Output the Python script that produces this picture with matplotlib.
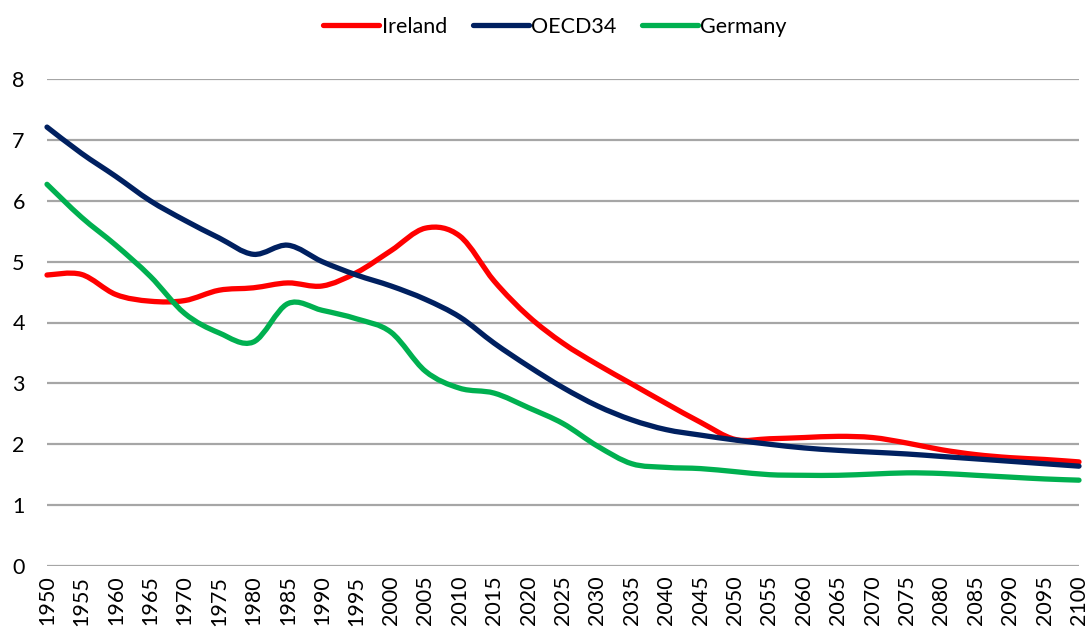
import matplotlib
matplotlib.use('Agg')
import matplotlib.pyplot as plt
from matplotlib.path import Path
from matplotlib.patches import PathPatch
from matplotlib.lines import Line2D

plt.rcParams['font.family'] = ['Lato', 'DejaVu Sans']

# 数据：1950-2100，每5年
years = list(range(1950, 2101, 5))
ireland = [4.78, 4.79, 4.46, 4.35, 4.36, 4.53, 4.57, 4.65, 4.60, 4.82, 5.18, 5.55, 5.42, 4.68, 4.10,
           3.66, 3.31, 2.99, 2.67, 2.36, 2.08, 2.09, 2.11, 2.13, 2.11, 2.02, 1.91, 1.83, 1.78, 1.75, 1.71]
oecd34 = [7.21, 6.78, 6.40, 6.00, 5.68, 5.39, 5.12, 5.27, 5.00, 4.78, 4.60, 4.38, 4.09, 3.66, 3.28,
          2.93, 2.63, 2.40, 2.24, 2.15, 2.07, 2.00, 1.94, 1.90, 1.87, 1.84, 1.80, 1.76, 1.72, 1.68, 1.64]
germany = [6.27, 5.73, 5.27, 4.76, 4.15, 3.83, 3.68, 4.31, 4.20, 4.06, 3.84, 3.20, 2.92, 2.84, 2.60,
           2.34, 1.97, 1.68, 1.62, 1.60, 1.55, 1.50, 1.49, 1.49, 1.51, 1.53, 1.52, 1.49, 1.46, 1.43, 1.41]

names = ['Ireland', 'OECD34', 'Germany']
colors = ['#FF0000', '#002060', '#00B050']


def smooth_path(xs, ys):
    # 类似Excel平滑线：Catmull-Rom 转三次贝塞尔
    pts = list(zip(xs, ys))
    verts = [pts[0]]
    codes = [Path.MOVETO]
    n = len(pts)
    for i in range(n - 1):
        p0 = pts[i - 1] if i > 0 else pts[i]
        p1 = pts[i]
        p2 = pts[i + 1]
        p3 = pts[i + 2] if i + 2 < n else pts[i + 1]
        c1 = (p1[0] + (p2[0] - p0[0]) / 6, p1[1] + (p2[1] - p0[1]) / 6)
        c2 = (p2[0] - (p3[0] - p1[0]) / 6, p2[1] - (p3[1] - p1[1]) / 6)
        verts += [c1, c2, p2]
        codes += [Path.CURVE4] * 3
    return Path(verts, codes)


fig = plt.figure(figsize=(10.88, 6.28), dpi=100)
ax = fig.add_axes([47 / 1088, 1 - 566 / 628, (1079 - 47) / 1088, (566 - 79) / 628])

for vals, c in zip([ireland, oecd34, germany], colors):
    patch = PathPatch(smooth_path(years, vals), fill=False, edgecolor=c, lw=3.8,
                      capstyle='round', joinstyle='round', clip_on=False, zorder=3)
    ax.add_patch(patch)

ax.set_xlim(1950, 2100)
ax.set_ylim(0, 8)
ax.set_xticks(years)
ax.set_xticklabels([str(y) for y in years], rotation=90, fontsize=15.5)
ax.set_yticks(range(0, 9))
ax.set_yticklabels([str(v) for v in range(0, 9)], fontsize=15.5)
ax.tick_params(axis='both', length=0)
ax.tick_params(axis='y', pad=16)
ax.tick_params(axis='x', pad=7)
ax.grid(axis='y', color='#A6A6A6', lw=1.6)
ax.set_axisbelow(True)
for s in ax.spines.values():
    s.set_visible(False)

handles = [Line2D([], [], color=c, lw=3.8, solid_capstyle='round') for c in colors]
fig.legend(handles, names, loc='center', bbox_to_anchor=(555 / 1088, 1 - 27 / 628), ncol=3,
           frameon=False, fontsize=15.5, handlelength=2.6, handletextpad=0.1, columnspacing=1.2)

fig.savefig('out.png', dpi=100)
